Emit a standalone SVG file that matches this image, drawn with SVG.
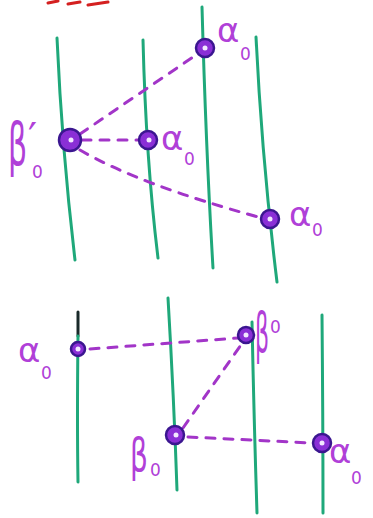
<svg xmlns="http://www.w3.org/2000/svg" width="373" height="518" viewBox="0 0 373 518">
<style>
.bg{fill:#ffffff}
.strand{fill:none;stroke:#1fa87a;stroke-width:3;stroke-linecap:round}
.dark{fill:none;stroke:#1a2a2a;stroke-width:3;stroke-linecap:round}
.dash{fill:none;stroke:#a235c8;stroke-width:3;stroke-dasharray:9 9;stroke-linecap:round}
.dot{fill:#8a2fd6;stroke:#3b1690;stroke-width:2.5}
.core{fill:#f2e8ff}
.lab{font-family:"DejaVu Sans",sans-serif;fill:#b040d8}
.g{font-size:34px}
.b{font-size:40px}
.s{font-size:17px}
.red{fill:none;stroke:#d42020;stroke-width:3;stroke-linecap:round}
</style>
<rect class="bg" width="373" height="518"/>
<path class="red" d="M48 3 L58 1 M68 4 L80 2 M88 5 L108 2"/>
<g id="strands">
<path class="strand" d="M57 38 Q62 150 75 260"/>
<path class="strand" d="M143 40 Q146 160 158 258"/>
<path class="strand" d="M202 7 Q206 150 213 268"/>
<path class="strand" d="M256 37 Q262 160 277 282"/>
<path class="dark" d="M78 312 L78 336"/>
<path class="strand" d="M78 336 Q77 420 78 482"/>
<path class="strand" d="M168 298 Q174 400 177 490"/>
<path class="strand" d="M252 322 Q254 420 257 513"/>
<path class="strand" d="M322 315 Q323 420 323 513"/>
</g>
<g id="connectors">
<path class="dash" d="M80 134 L196 55"/>
<path class="dash" d="M82 140 L138 140"/>
<path class="dash" d="M80 150 Q140 185 262 218"/>
<path class="dash" d="M90 349 L238 338"/>
<path class="dash" d="M183 428 L243 342"/>
<path class="dash" d="M188 437 L312 443"/>
</g>
<g id="n-a0-top">
<circle class="dot" cx="205" cy="48" r="9"/><circle class="core" cx="205" cy="48" r="2.5"/>
<text class="lab g" x="217" y="42">α</text><text class="lab s" x="240" y="60">0</text>
</g>
<g id="n-b1-top">
<circle class="dot" cx="70" cy="140" r="11"/><circle class="core" cx="71" cy="140" r="2.5"/>
<text class="lab b" transform="translate(8,165) scale(0.75,1.45)">β</text>
<text class="lab" style="font-size:40px" x="28" y="152">′</text>
<text class="lab s" x="32" y="178">0</text>
</g>
<g id="n-a0-l2">
<circle class="dot" cx="148" cy="140" r="9"/><circle class="core" cx="149" cy="140" r="2.5"/>
<text class="lab g" x="161" y="150">α</text><text class="lab s" x="184" y="165">0</text>
</g>
<g id="n-a0-l4">
<circle class="dot" cx="270" cy="219" r="9"/><circle class="core" cx="270" cy="219" r="2.5"/>
<text class="lab g" x="289" y="226">α</text><text class="lab s" x="312" y="236">0</text>
</g>
<g id="n-a0-bl">
<circle class="dot" cx="78" cy="349" r="7"/><circle class="core" cx="78" cy="349" r="2.5"/>
<text class="lab g" x="18" y="362">α</text><text class="lab s" x="41" y="379">0</text>
</g>
<g id="n-b0-tr">
<circle class="dot" cx="246" cy="335" r="8"/><circle class="core" cx="246" cy="335" r="2.5"/>
<text class="lab b" transform="translate(255,352) scale(0.55,1.4)">β</text>
<text class="lab s" x="270" y="333">0</text>
</g>
<g id="n-b0-bl">
<circle class="dot" cx="175" cy="435" r="9"/><circle class="core" cx="176" cy="435" r="2.5"/>
<text class="lab b" transform="translate(130,471) scale(0.7,1.15)">β</text>
<text class="lab s" x="150" y="476">0</text>
</g>
<g id="n-a0-br">
<circle class="dot" cx="322" cy="443" r="9"/><circle class="core" cx="322" cy="443" r="2.5"/>
<text class="lab g" x="329" y="463">α</text><text class="lab s" x="351" y="484">0</text>
</g>
</svg>
